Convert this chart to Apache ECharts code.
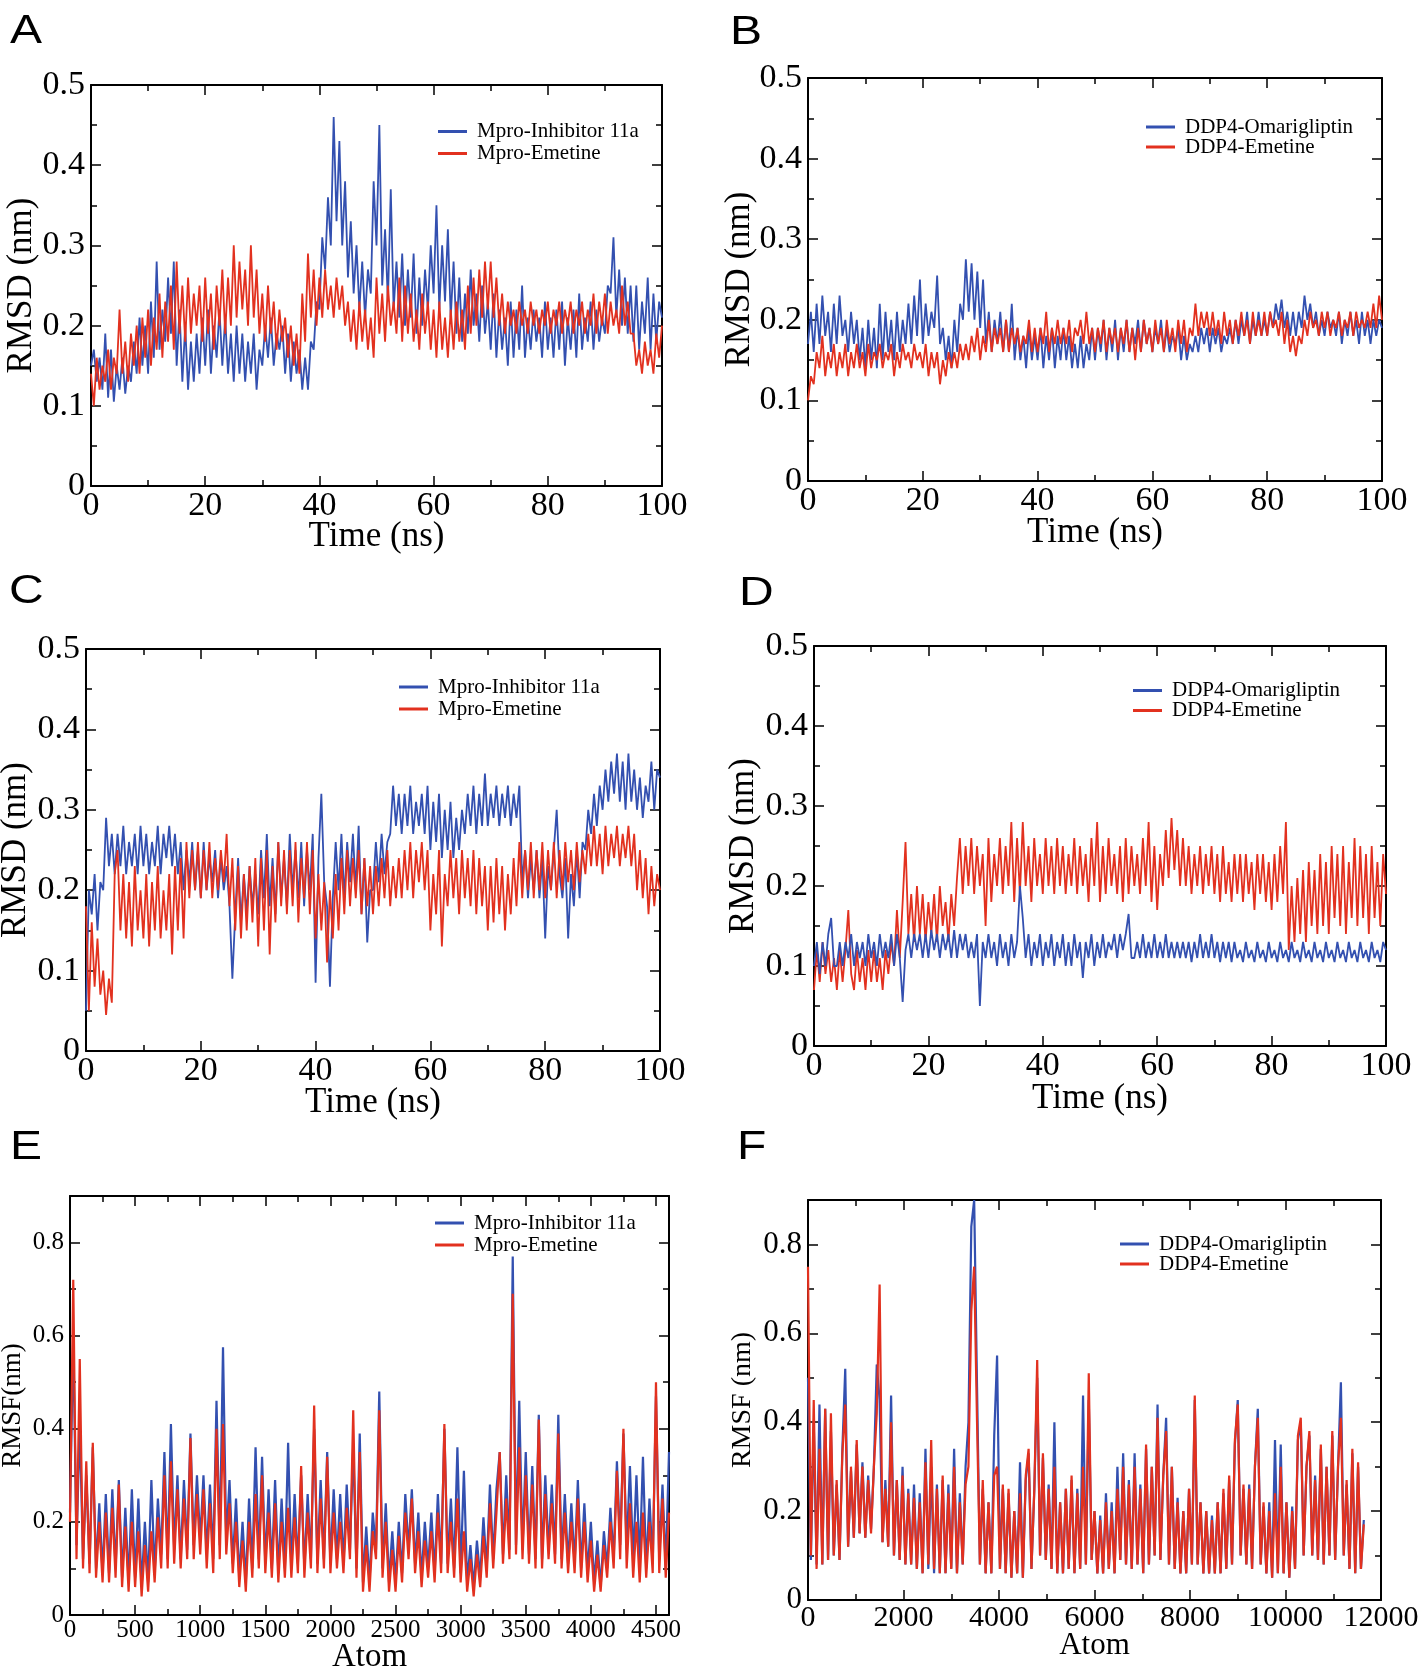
<!DOCTYPE html>
<html><head><meta charset="utf-8">
<script src="https://cdn.jsdelivr.net/npm/echarts@6/dist/echarts.min.js"></script>
<style>html,body{margin:0;padding:0;background:#fff}#c{width:1421px;height:1668px}</style>
</head><body><div id="c"></div>
<script>
const BLUE = '#3350b0', RED = '#e2311f';
const NAME_M1 = 'Mpro-Inhibitor 11a', NAME_M2 = 'Mpro-Emetine';
const NAME_D1 = 'DDP4-Omarigliptin', NAME_D2 = 'DDP4-Emetine';
// sampling steps (x spacing of the readings)
const RMSD_STEP_NS = 0.5, RMSF_E_STEP = 25, RMSF_F_STEP = 60;

// Panel A: RMSD (nm), t = 0..100 ns every 0.5 ns
const rmsdA_inhibitor11a = [
0.15,0.17,0.13,0.16,0.12,0.19,0.11,0.17,0.105,0.15,
0.12,0.16,0.115,0.15,0.13,0.18,0.14,0.21,0.15,0.2,
0.14,0.23,0.16,0.28,0.17,0.22,0.18,0.26,0.19,0.28,
0.15,0.22,0.13,0.2,0.12,0.18,0.13,0.19,0.14,0.21,
0.15,0.22,0.14,0.2,0.16,0.22,0.15,0.21,0.14,0.19,
0.13,0.2,0.14,0.19,0.13,0.18,0.14,0.19,0.12,0.17,
0.15,0.2,0.16,0.21,0.15,0.19,0.17,0.2,0.14,0.19,
0.13,0.18,0.14,0.17,0.12,0.16,0.12,0.18,0.17,0.23,
0.22,0.31,0.27,0.36,0.3,0.46,0.33,0.43,0.3,0.38,
0.26,0.33,0.24,0.3,0.22,0.28,0.21,0.27,0.24,0.38,
0.3,0.45,0.25,0.32,0.23,0.37,0.22,0.28,0.21,0.29,
0.2,0.27,0.21,0.29,0.19,0.26,0.2,0.27,0.22,0.3,
0.24,0.35,0.22,0.3,0.23,0.32,0.21,0.28,0.19,0.26,
0.18,0.24,0.19,0.27,0.2,0.24,0.18,0.25,0.19,0.23,
0.17,0.24,0.16,0.22,0.17,0.21,0.15,0.23,0.16,0.22,
0.17,0.25,0.16,0.21,0.17,0.22,0.18,0.21,0.16,0.23,
0.17,0.21,0.16,0.22,0.17,0.23,0.15,0.21,0.17,0.22,
0.16,0.24,0.17,0.21,0.18,0.23,0.17,0.22,0.18,0.21,
0.19,0.25,0.24,0.31,0.21,0.27,0.2,0.26,0.19,0.25,
0.18,0.25,0.17,0.23,0.19,0.26,0.17,0.24,0.18,0.23,
0.21];
const rmsdA_emetine = [
0.14,0.1,0.16,0.12,0.15,0.13,0.17,0.12,0.16,0.14,
0.22,0.14,0.18,0.13,0.19,0.15,0.2,0.14,0.21,0.16,
0.22,0.15,0.21,0.17,0.24,0.16,0.23,0.18,0.25,0.17,
0.28,0.19,0.25,0.18,0.26,0.19,0.24,0.2,0.25,0.18,
0.26,0.19,0.24,0.17,0.25,0.2,0.27,0.19,0.26,0.2,
0.3,0.21,0.28,0.22,0.27,0.2,0.3,0.21,0.27,0.19,
0.24,0.18,0.25,0.19,0.23,0.17,0.22,0.18,0.21,0.16,
0.2,0.15,0.19,0.14,0.24,0.18,0.29,0.21,0.27,0.2,
0.26,0.21,0.27,0.22,0.25,0.21,0.26,0.22,0.25,0.2,
0.23,0.18,0.22,0.17,0.23,0.18,0.22,0.17,0.21,0.16,
0.26,0.19,0.24,0.18,0.25,0.2,0.23,0.19,0.26,0.18,
0.25,0.19,0.24,0.18,0.22,0.17,0.24,0.19,0.23,0.17,
0.22,0.16,0.23,0.17,0.21,0.16,0.22,0.17,0.23,0.18,
0.22,0.17,0.25,0.19,0.26,0.2,0.27,0.21,0.28,0.22,
0.28,0.21,0.26,0.2,0.24,0.19,0.23,0.2,0.22,0.19,
0.23,0.2,0.22,0.19,0.23,0.2,0.22,0.19,0.22,0.2,
0.23,0.19,0.22,0.2,0.23,0.19,0.22,0.2,0.23,0.19,
0.22,0.2,0.23,0.19,0.22,0.2,0.24,0.19,0.23,0.2,
0.24,0.19,0.23,0.2,0.22,0.19,0.25,0.2,0.23,0.19,
0.19,0.15,0.17,0.14,0.18,0.15,0.17,0.14,0.19,0.16,
0.2];

// Panel B
const rmsdB_omarigliptin = [
0.17,0.21,0.16,0.22,0.17,0.23,0.18,0.21,0.16,0.22,
0.17,0.23,0.18,0.2,0.16,0.21,0.17,0.2,0.15,0.19,
0.14,0.2,0.15,0.19,0.14,0.22,0.15,0.21,0.16,0.2,
0.15,0.21,0.16,0.2,0.17,0.22,0.17,0.23,0.18,0.25,
0.17,0.22,0.18,0.21,0.19,0.255,0.17,0.19,0.15,0.18,
0.14,0.2,0.16,0.22,0.2,0.275,0.21,0.27,0.2,0.26,
0.19,0.25,0.17,0.21,0.16,0.2,0.17,0.21,0.16,0.2,
0.16,0.22,0.15,0.19,0.15,0.18,0.14,0.19,0.15,0.18,
0.15,0.19,0.14,0.18,0.15,0.19,0.14,0.18,0.15,0.19,
0.15,0.18,0.14,0.17,0.14,0.18,0.14,0.17,0.15,0.19,
0.15,0.19,0.16,0.2,0.15,0.19,0.16,0.2,0.15,0.19,
0.16,0.2,0.16,0.19,0.17,0.2,0.16,0.2,0.17,0.19,
0.16,0.19,0.17,0.2,0.16,0.19,0.16,0.18,0.17,0.19,
0.15,0.18,0.15,0.17,0.16,0.18,0.16,0.19,0.17,0.19,
0.16,0.19,0.17,0.19,0.16,0.18,0.17,0.19,0.17,0.2,
0.17,0.2,0.18,0.21,0.17,0.2,0.18,0.21,0.18,0.2,
0.18,0.21,0.19,0.22,0.2,0.225,0.19,0.21,0.18,0.21,
0.18,0.21,0.19,0.23,0.2,0.22,0.19,0.21,0.18,0.2,
0.18,0.21,0.19,0.2,0.18,0.21,0.17,0.2,0.18,0.21,
0.18,0.2,0.17,0.21,0.18,0.2,0.17,0.2,0.18,0.2,
0.19];
const rmsdB_emetine = [
0.1,0.13,0.12,0.16,0.14,0.18,0.13,0.16,0.14,0.17,
0.13,0.16,0.14,0.17,0.13,0.16,0.14,0.17,0.14,0.16,
0.13,0.17,0.14,0.16,0.15,0.17,0.14,0.16,0.15,0.17,
0.13,0.16,0.14,0.17,0.15,0.16,0.14,0.17,0.15,0.16,
0.14,0.17,0.13,0.16,0.14,0.16,0.12,0.15,0.13,0.16,
0.14,0.16,0.14,0.17,0.15,0.17,0.15,0.18,0.16,0.19,
0.15,0.18,0.16,0.2,0.16,0.19,0.17,0.19,0.16,0.2,
0.16,0.19,0.17,0.19,0.16,0.18,0.17,0.2,0.16,0.19,
0.16,0.19,0.17,0.21,0.16,0.19,0.17,0.2,0.17,0.19,
0.17,0.2,0.16,0.19,0.18,0.2,0.17,0.21,0.17,0.19,
0.16,0.19,0.17,0.2,0.16,0.19,0.17,0.19,0.16,0.19,
0.17,0.2,0.16,0.19,0.15,0.19,0.16,0.2,0.17,0.19,
0.16,0.2,0.17,0.19,0.16,0.2,0.17,0.19,0.16,0.2,
0.17,0.2,0.16,0.19,0.18,0.22,0.18,0.21,0.19,0.21,
0.18,0.21,0.18,0.2,0.17,0.21,0.18,0.2,0.17,0.2,
0.18,0.21,0.18,0.2,0.17,0.21,0.18,0.2,0.18,0.21,
0.18,0.21,0.19,0.2,0.18,0.21,0.17,0.2,0.16,0.18,
0.155,0.18,0.17,0.2,0.18,0.21,0.19,0.2,0.18,0.21,
0.19,0.21,0.18,0.2,0.19,0.21,0.18,0.2,0.19,0.21,
0.18,0.21,0.19,0.2,0.19,0.21,0.19,0.22,0.19,0.23,
0.2];

// Panel C
const rmsdC_inhibitor11a = [
0.05,0.2,0.17,0.22,0.15,0.21,0.2,0.29,0.23,0.27,
0.22,0.27,0.23,0.28,0.22,0.26,0.23,0.27,0.22,0.28,
0.23,0.27,0.22,0.26,0.23,0.28,0.22,0.27,0.24,0.28,
0.23,0.27,0.22,0.26,0.2,0.25,0.21,0.26,0.2,0.25,
0.19,0.26,0.2,0.24,0.21,0.25,0.19,0.24,0.2,0.23,
0.18,0.09,0.17,0.24,0.16,0.22,0.17,0.23,0.18,0.22,
0.17,0.25,0.19,0.27,0.18,0.24,0.17,0.26,0.19,0.24,
0.18,0.27,0.2,0.25,0.19,0.26,0.18,0.25,0.2,0.27,
0.085,0.24,0.32,0.21,0.18,0.08,0.19,0.26,0.2,0.27,
0.19,0.26,0.21,0.27,0.2,0.28,0.17,0.24,0.135,0.2,
0.2,0.26,0.21,0.27,0.22,0.26,0.27,0.33,0.28,0.32,
0.27,0.32,0.28,0.33,0.27,0.31,0.28,0.32,0.27,0.33,
0.25,0.31,0.26,0.32,0.24,0.3,0.25,0.31,0.24,0.29,
0.25,0.3,0.27,0.32,0.28,0.33,0.27,0.32,0.28,0.345,
0.28,0.32,0.29,0.33,0.28,0.32,0.29,0.33,0.28,0.32,
0.29,0.33,0.21,0.25,0.19,0.24,0.2,0.25,0.19,0.24,
0.14,0.23,0.2,0.25,0.3,0.22,0.19,0.24,0.14,0.22,
0.18,0.25,0.19,0.26,0.25,0.3,0.27,0.32,0.28,0.33,
0.3,0.35,0.31,0.36,0.32,0.37,0.31,0.36,0.3,0.37,
0.31,0.35,0.3,0.34,0.29,0.33,0.31,0.36,0.3,0.35,
0.34];
const rmsdC_emetine = [
0.18,0.05,0.16,0.08,0.14,0.07,0.1,0.045,0.09,0.06,
0.22,0.25,0.15,0.22,0.14,0.21,0.13,0.23,0.15,0.2,
0.14,0.22,0.13,0.21,0.15,0.23,0.14,0.2,0.15,0.22,
0.12,0.23,0.15,0.24,0.14,0.26,0.19,0.25,0.2,0.26,
0.19,0.25,0.2,0.26,0.19,0.24,0.2,0.25,0.21,0.27,
0.18,0.24,0.15,0.23,0.14,0.22,0.15,0.23,0.16,0.24,
0.13,0.24,0.15,0.25,0.12,0.23,0.16,0.26,0.18,0.25,
0.17,0.25,0.18,0.26,0.16,0.24,0.19,0.26,0.17,0.25,
0.14,0.22,0.15,0.21,0.11,0.2,0.14,0.22,0.15,0.24,
0.17,0.25,0.18,0.24,0.19,0.25,0.17,0.24,0.18,0.23,
0.17,0.23,0.18,0.24,0.19,0.25,0.18,0.23,0.19,0.24,
0.19,0.25,0.2,0.26,0.19,0.25,0.21,0.26,0.2,0.25,
0.15,0.22,0.17,0.25,0.13,0.22,0.18,0.25,0.19,0.24,
0.17,0.25,0.19,0.24,0.18,0.25,0.17,0.24,0.18,0.23,
0.15,0.23,0.16,0.24,0.17,0.23,0.15,0.22,0.17,0.24,
0.18,0.26,0.19,0.25,0.2,0.26,0.19,0.25,0.2,0.26,
0.19,0.25,0.2,0.26,0.19,0.25,0.2,0.26,0.21,0.25,
0.2,0.26,0.21,0.25,0.22,0.27,0.23,0.28,0.23,0.27,
0.22,0.28,0.23,0.27,0.24,0.28,0.23,0.27,0.24,0.28,
0.23,0.27,0.2,0.25,0.19,0.24,0.17,0.23,0.18,0.22,
0.2];

// Panel D
const rmsdD_omarigliptin = [
0.1,0.13,0.09,0.13,0.1,0.14,0.16,0.1,0.1,0.13,
0.1,0.13,0.11,0.14,0.1,0.13,0.11,0.13,0.1,0.14,
0.11,0.13,0.1,0.14,0.11,0.13,0.11,0.14,0.1,0.14,
0.11,0.055,0.12,0.14,0.11,0.14,0.12,0.14,0.11,0.14,
0.11,0.145,0.12,0.14,0.11,0.14,0.12,0.14,0.11,0.145,
0.11,0.14,0.12,0.14,0.11,0.13,0.11,0.14,0.05,0.13,
0.11,0.14,0.11,0.13,0.1,0.14,0.11,0.13,0.1,0.14,
0.11,0.13,0.2,0.16,0.11,0.14,0.1,0.13,0.11,0.14,
0.1,0.13,0.11,0.14,0.1,0.13,0.11,0.14,0.1,0.13,
0.1,0.14,0.11,0.13,0.085,0.13,0.11,0.14,0.1,0.13,
0.11,0.14,0.11,0.13,0.12,0.14,0.11,0.14,0.12,0.14,
0.165,0.11,0.11,0.13,0.11,0.14,0.11,0.13,0.11,0.14,
0.11,0.13,0.11,0.14,0.11,0.13,0.11,0.13,0.11,0.13,
0.11,0.13,0.105,0.13,0.11,0.14,0.11,0.13,0.11,0.14,
0.11,0.13,0.105,0.13,0.11,0.13,0.105,0.13,0.11,0.12,
0.105,0.13,0.11,0.12,0.105,0.13,0.11,0.12,0.105,0.13,
0.11,0.12,0.105,0.13,0.11,0.12,0.105,0.13,0.11,0.12,
0.105,0.13,0.11,0.12,0.105,0.13,0.11,0.12,0.105,0.13,
0.11,0.12,0.105,0.13,0.11,0.12,0.105,0.13,0.11,0.12,
0.105,0.13,0.11,0.12,0.105,0.13,0.11,0.12,0.105,0.13,
0.12];
const rmsdD_emetine = [
0.07,0.12,0.08,0.13,0.09,0.12,0.08,0.11,0.07,0.12,
0.08,0.12,0.17,0.09,0.07,0.12,0.08,0.11,0.07,0.12,
0.08,0.12,0.08,0.11,0.07,0.12,0.09,0.13,0.1,0.17,
0.11,0.18,0.255,0.14,0.19,0.13,0.2,0.14,0.19,0.13,
0.18,0.14,0.19,0.13,0.2,0.15,0.18,0.13,0.19,0.15,
0.21,0.26,0.19,0.25,0.2,0.26,0.19,0.25,0.2,0.24,
0.15,0.26,0.18,0.24,0.2,0.26,0.19,0.25,0.2,0.28,
0.18,0.26,0.19,0.28,0.2,0.25,0.18,0.26,0.2,0.24,
0.19,0.26,0.2,0.25,0.19,0.26,0.2,0.25,0.19,0.24,
0.2,0.26,0.19,0.25,0.2,0.24,0.18,0.26,0.2,0.28,
0.18,0.25,0.19,0.26,0.2,0.24,0.19,0.25,0.18,0.26,
0.19,0.25,0.2,0.24,0.19,0.26,0.2,0.28,0.18,0.25,
0.17,0.24,0.2,0.27,0.21,0.285,0.22,0.27,0.2,0.26,
0.2,0.25,0.19,0.24,0.2,0.25,0.19,0.24,0.2,0.25,
0.19,0.24,0.18,0.25,0.19,0.23,0.18,0.24,0.19,0.24,
0.18,0.24,0.19,0.23,0.17,0.24,0.19,0.24,0.18,0.23,
0.17,0.24,0.18,0.25,0.19,0.28,0.12,0.2,0.13,0.21,
0.14,0.22,0.13,0.23,0.15,0.22,0.14,0.24,0.15,0.23,
0.14,0.25,0.16,0.24,0.15,0.25,0.14,0.23,0.16,0.26,
0.15,0.25,0.16,0.24,0.14,0.25,0.16,0.23,0.15,0.24,
0.19];

// Panel E: RMSF (nm), atoms 0..4600 every 25
const rmsfE_inhibitor11a = [
0.22,0.6,0.15,0.41,0.12,0.3,0.11,0.36,0.1,0.24,
0.09,0.26,0.09,0.27,0.1,0.29,0.08,0.23,0.07,0.27,
0.08,0.25,0.06,0.2,0.07,0.29,0.09,0.25,0.13,0.35,
0.12,0.41,0.14,0.3,0.12,0.29,0.14,0.39,0.15,0.3,
0.16,0.3,0.13,0.28,0.12,0.46,0.15,0.575,0.16,0.29,
0.11,0.25,0.08,0.2,0.07,0.25,0.1,0.36,0.12,0.34,
0.11,0.27,0.1,0.29,0.09,0.25,0.1,0.37,0.1,0.26,
0.11,0.3,0.1,0.26,0.12,0.4,0.11,0.29,0.12,0.35,
0.11,0.27,0.12,0.26,0.11,0.28,0.14,0.36,0.1,0.39,
0.07,0.19,0.07,0.22,0.14,0.48,0.1,0.24,0.07,0.18,
0.07,0.2,0.09,0.26,0.14,0.27,0.11,0.22,0.08,0.2,
0.1,0.22,0.09,0.26,0.11,0.4,0.11,0.25,0.1,0.36,
0.09,0.31,0.07,0.15,0.06,0.16,0.08,0.21,0.1,0.28,
0.12,0.27,0.35,0.13,0.3,0.14,0.77,0.15,0.46,0.14,
0.35,0.13,0.32,0.12,0.43,0.12,0.3,0.14,0.28,0.13,
0.43,0.12,0.26,0.11,0.24,0.11,0.29,0.1,0.24,0.09,
0.2,0.07,0.16,0.06,0.18,0.1,0.23,0.12,0.33,0.15,
0.39,0.14,0.32,0.12,0.3,0.11,0.34,0.1,0.25,0.11,
0.47,0.12,0.28,0.1,0.35];
const rmsfE_emetine = [
0.2,0.72,0.12,0.55,0.1,0.33,0.09,0.37,0.08,0.2,
0.07,0.22,0.07,0.23,0.08,0.28,0.06,0.19,0.05,0.2,
0.06,0.18,0.04,0.15,0.05,0.18,0.07,0.21,0.1,0.3,
0.1,0.33,0.11,0.27,0.1,0.25,0.12,0.38,0.12,0.26,
0.13,0.27,0.1,0.24,0.09,0.4,0.12,0.41,0.13,0.24,
0.09,0.2,0.06,0.16,0.05,0.2,0.08,0.26,0.1,0.3,
0.09,0.22,0.08,0.24,0.07,0.2,0.08,0.23,0.08,0.21,
0.09,0.32,0.08,0.22,0.1,0.45,0.09,0.25,0.1,0.34,
0.09,0.22,0.1,0.2,0.09,0.23,0.12,0.44,0.08,0.35,
0.05,0.15,0.05,0.18,0.12,0.44,0.08,0.2,0.05,0.14,
0.05,0.17,0.07,0.22,0.12,0.25,0.09,0.18,0.06,0.16,
0.08,0.18,0.07,0.22,0.09,0.41,0.09,0.2,0.08,0.25,
0.07,0.18,0.05,0.12,0.04,0.13,0.06,0.17,0.08,0.24,
0.1,0.22,0.35,0.11,0.25,0.12,0.69,0.13,0.36,0.12,
0.3,0.11,0.28,0.1,0.42,0.1,0.26,0.12,0.24,0.11,
0.39,0.1,0.22,0.09,0.2,0.09,0.25,0.08,0.2,0.07,
0.16,0.05,0.13,0.05,0.15,0.08,0.2,0.1,0.31,0.12,
0.4,0.1,0.24,0.08,0.2,0.07,0.22,0.08,0.2,0.09,
0.5,0.09,0.25,0.08,0.22];

// Panel F: RMSF (nm), atoms 0..11640 every 60
const rmsfF_omarigliptin = [
0.5,0.09,0.4,0.08,0.44,0.08,0.43,0.09,0.38,0.1,
0.26,0.09,0.34,0.52,0.12,0.29,0.14,0.35,0.15,0.31,
0.14,0.28,0.16,0.3,0.53,0.45,0.13,0.27,0.12,0.46,
0.1,0.27,0.09,0.3,0.08,0.25,0.08,0.26,0.07,0.24,
0.06,0.34,0.07,0.3,0.06,0.26,0.06,0.27,0.06,0.26,
0.07,0.34,0.06,0.24,0.08,0.3,0.4,0.84,0.9,0.48,
0.08,0.25,0.06,0.22,0.06,0.37,0.55,0.07,0.25,0.06,
0.24,0.05,0.2,0.06,0.31,0.05,0.27,0.33,0.07,0.25,
0.5,0.1,0.32,0.09,0.26,0.07,0.4,0.06,0.22,0.06,
0.25,0.07,0.27,0.06,0.25,0.07,0.46,0.08,0.45,0.09,
0.2,0.06,0.19,0.06,0.24,0.07,0.22,0.06,0.3,0.09,
0.33,0.08,0.27,0.07,0.33,0.08,0.26,0.06,0.34,0.08,
0.3,0.1,0.44,0.09,0.28,0.41,0.08,0.3,0.07,0.23,
0.06,0.2,0.06,0.25,0.08,0.45,0.08,0.22,0.06,0.2,
0.06,0.19,0.06,0.22,0.06,0.24,0.07,0.27,0.08,0.35,
0.45,0.1,0.25,0.08,0.26,0.07,0.3,0.43,0.08,0.21,
0.06,0.22,0.05,0.36,0.06,0.35,0.06,0.22,0.05,0.21,
0.07,0.36,0.4,0.1,0.3,0.37,0.1,0.28,0.09,0.34,
0.08,0.3,0.1,0.37,0.09,0.3,0.49,0.1,0.26,0.07,
0.33,0.06,0.3,0.07,0.18];
const rmsfF_emetine = [
0.75,0.1,0.45,0.07,0.34,0.08,0.43,0.09,0.42,0.1,
0.27,0.09,0.33,0.44,0.12,0.3,0.14,0.36,0.15,0.3,
0.14,0.27,0.15,0.3,0.42,0.71,0.13,0.25,0.12,0.4,
0.1,0.27,0.09,0.28,0.08,0.24,0.08,0.23,0.07,0.22,
0.06,0.31,0.08,0.36,0.07,0.25,0.06,0.28,0.06,0.24,
0.07,0.3,0.06,0.22,0.08,0.26,0.3,0.65,0.75,0.4,
0.08,0.27,0.06,0.22,0.06,0.28,0.3,0.07,0.26,0.06,
0.25,0.05,0.2,0.06,0.24,0.05,0.28,0.34,0.07,0.25,
0.54,0.1,0.33,0.09,0.25,0.07,0.3,0.06,0.22,0.06,
0.25,0.07,0.28,0.06,0.24,0.07,0.3,0.08,0.51,0.09,
0.2,0.06,0.18,0.06,0.22,0.07,0.2,0.06,0.25,0.09,
0.3,0.08,0.26,0.07,0.3,0.08,0.25,0.06,0.35,0.08,
0.3,0.1,0.41,0.09,0.28,0.38,0.08,0.3,0.07,0.22,
0.06,0.2,0.06,0.25,0.08,0.46,0.08,0.22,0.06,0.2,
0.06,0.18,0.06,0.22,0.06,0.25,0.07,0.28,0.08,0.36,
0.44,0.1,0.26,0.08,0.25,0.07,0.3,0.41,0.08,0.22,
0.06,0.2,0.05,0.24,0.06,0.3,0.06,0.22,0.05,0.2,
0.07,0.37,0.41,0.1,0.3,0.38,0.1,0.27,0.09,0.35,
0.08,0.3,0.1,0.38,0.09,0.3,0.41,0.1,0.27,0.07,
0.34,0.06,0.31,0.07,0.17];

const SERIF = 'Liberation Serif';
const panels = [
  {letter:'A', lx:10, ly:12, grid:{left:91, top:85, width:571, height:401},
   xMax:100, xInt:20, yMax:0.5, yInt:0.1, xName:'Time (ns)', yName:'RMSD (nm)',
   yTickFont:34, xTickFont:34, xNameFont:35, yNameFont:35, xNameGap:33, yNameGap:52,
   legend:{left:438, top:121, gap:1}, top:'red', lw:1.8,
   s:[[NAME_M1, rmsdA_inhibitor11a, BLUE, RMSD_STEP_NS],[NAME_M2, rmsdA_emetine, RED, RMSD_STEP_NS]]},
  {letter:'B', lx:730, ly:13, grid:{left:808, top:78, width:574, height:403},
   xMax:100, xInt:20, yMax:0.5, yInt:0.1, xName:'Time (ns)', yName:'RMSD (nm)',
   yTickFont:34, xTickFont:34, xNameFont:35, yNameFont:35, xNameGap:34, yNameGap:51,
   legend:{left:1146, top:116.5, gap:-1}, top:'red', lw:1.8,
   s:[[NAME_D1, rmsdB_omarigliptin, BLUE, RMSD_STEP_NS],[NAME_D2, rmsdB_emetine, RED, RMSD_STEP_NS]]},
  {letter:'C', lx:9, ly:572, grid:{left:86, top:649, width:574, height:402},
   xMax:100, xInt:20, yMax:0.5, yInt:0.1, xName:'Time (ns)', yName:'RMSD (nm)',
   yTickFont:34, xTickFont:34, xNameFont:35, yNameFont:35, xNameGap:34, yNameGap:53,
   legend:{left:399, top:676.5, gap:1}, top:'red', lw:1.8,
   s:[[NAME_M1, rmsdC_inhibitor11a, BLUE, RMSD_STEP_NS],[NAME_M2, rmsdC_emetine, RED, RMSD_STEP_NS]]},
  {letter:'D', lx:739, ly:574, grid:{left:814, top:646, width:572, height:400},
   xMax:100, xInt:20, yMax:0.5, yInt:0.1, xName:'Time (ns)', yName:'RMSD (nm)',
   yTickFont:34, xTickFont:34, xNameFont:35, yNameFont:35, xNameGap:35, yNameGap:53,
   legend:{left:1133, top:680, gap:-1}, top:'blue', lw:1.8,
   s:[[NAME_D1, rmsdD_omarigliptin, BLUE, RMSD_STEP_NS],[NAME_D2, rmsdD_emetine, RED, RMSD_STEP_NS]]},
  {letter:'E', lx:10, ly:1128, grid:{left:70, top:1196, width:599, height:419},
   xMax:4600, xInt:500, yMax:0.9, yInt:0.2, xName:'Atom', yName:'RMSF(nm)',
   yTickFont:25, xTickFont:25, xNameFont:33, yNameFont:27, xNameGap:26, yNameGap:44,
   legend:{left:435, top:1212.5, gap:1}, top:'red', lw:2.2,
   s:[[NAME_M1, rmsfE_inhibitor11a, BLUE, RMSF_E_STEP],[NAME_M2, rmsfE_emetine, RED, RMSF_E_STEP]]},
  {letter:'F', lx:737, ly:1128, grid:{left:808, top:1200, width:573, height:400},
   xMax:12000, xInt:2000, yMax:0.9, yInt:0.2, xName:'Atom', yName:'RMSF (nm)',
   yTickFont:31, xTickFont:30, xNameFont:31, yNameFont:28, xNameGap:30, yNameGap:51,
   legend:{left:1120, top:1233.5, gap:-1}, top:'red', lw:2.2,
   s:[[NAME_D1, rmsfF_omarigliptin, BLUE, RMSF_F_STEP],[NAME_D2, rmsfF_emetine, RED, RMSF_F_STEP]]}
];

const AXC = '#000';
function mkAxis(gi, max, interval, pos, showLabel, tickFont, name, nameFont, nameGap, isX) {
  const a = {
    gridIndex: gi, type: 'value', min: 0, max: max, interval: interval, position: pos,
    axisLine: {show: true, onZero: false, lineStyle: {color: AXC, width: 2}},
    axisTick: {show: true, inside: true, length: 10, lineStyle: {color: AXC, width: 1.5}},
    minorTick: {show: true, splitNumber: 2, length: 6, lineStyle: {color: AXC, width: 1.5}},
    splitLine: {show: false}, minorSplitLine: {show: false},
    axisLabel: {show: showLabel, fontFamily: SERIF, fontSize: tickFont, color: '#000',
                margin: isX ? 3 : 6, showMaxLabel: (max === 100 || max === 12000 || max === 0.5),
                hideOverlap: false, formatter: v => String(v)},
    silent: true
  };
  if (name) {
    a.name = name; a.nameLocation = 'middle'; a.nameGap = nameGap; a.nameMoveOverlap = false;
    a.nameTextStyle = {fontFamily: SERIF, fontSize: nameFont, color: '#000'};
  }
  return a;
}

const xAxis = [], yAxis = [], series = [], grid = [], legend = [], graphic = [];
panels.forEach((p, gi) => {
  grid.push(Object.assign({containLabel: false, outerBoundsMode: 'none'}, p.grid));
  xAxis.push(mkAxis(gi, p.xMax, p.xInt, 'bottom', true, p.xTickFont, p.xName, p.xNameFont, p.xNameGap, true));
  xAxis.push(mkAxis(gi, p.xMax, p.xInt, 'top', false, p.xTickFont, null, 0, 0, true));
  yAxis.push(mkAxis(gi, p.yMax, p.yInt, 'left', true, p.yTickFont, p.yName, p.yNameFont, p.yNameGap, false));
  yAxis.push(mkAxis(gi, p.yMax, p.yInt, 'right', false, p.yTickFont, null, 0, 0, false));
  const order = p.top === 'red' ? [0, 1] : [1, 0];
  order.forEach(k => {
    const [name, vals, color, step] = p.s[k];
    series.push({
      type: 'line', name: name, xAxisIndex: gi * 2, yAxisIndex: gi * 2,
      data: vals.map((v, i) => [i * step, v]),
      showSymbol: false, symbol: 'none', color: color,
      lineStyle: {color: color, width: p.lw, join: 'bevel'}, sampling: null, animation: false, silent: true
    });
  });
  legend.push({
    orient: 'vertical', left: p.legend.left, top: p.legend.top, padding: 0,
    itemGap: p.legend.gap, icon: 'rect', itemWidth: 29, itemHeight: 3,
    data: [p.s[0][0], p.s[1][0]], selectedMode: false,
    textStyle: {fontFamily: SERIF, fontSize: 21, color: '#000', padding: [0, 0, 0, 5]}
  });
  graphic.push({
    type: 'text', x: p.lx, y: p.ly, scaleX: 1.2,
    style: {text: p.letter, fontFamily: 'Liberation Sans', fontSize: 40, fill: '#000', verticalAlign: 'top', align: 'left'}
  });
});

const chart = echarts.init(document.getElementById('c'), null, {renderer: 'canvas'});
chart.setOption({
  animation: false, backgroundColor: '#fff',
  grid, xAxis, yAxis, series, legend, graphic, tooltip: {show: false}
});
</script></body></html>
